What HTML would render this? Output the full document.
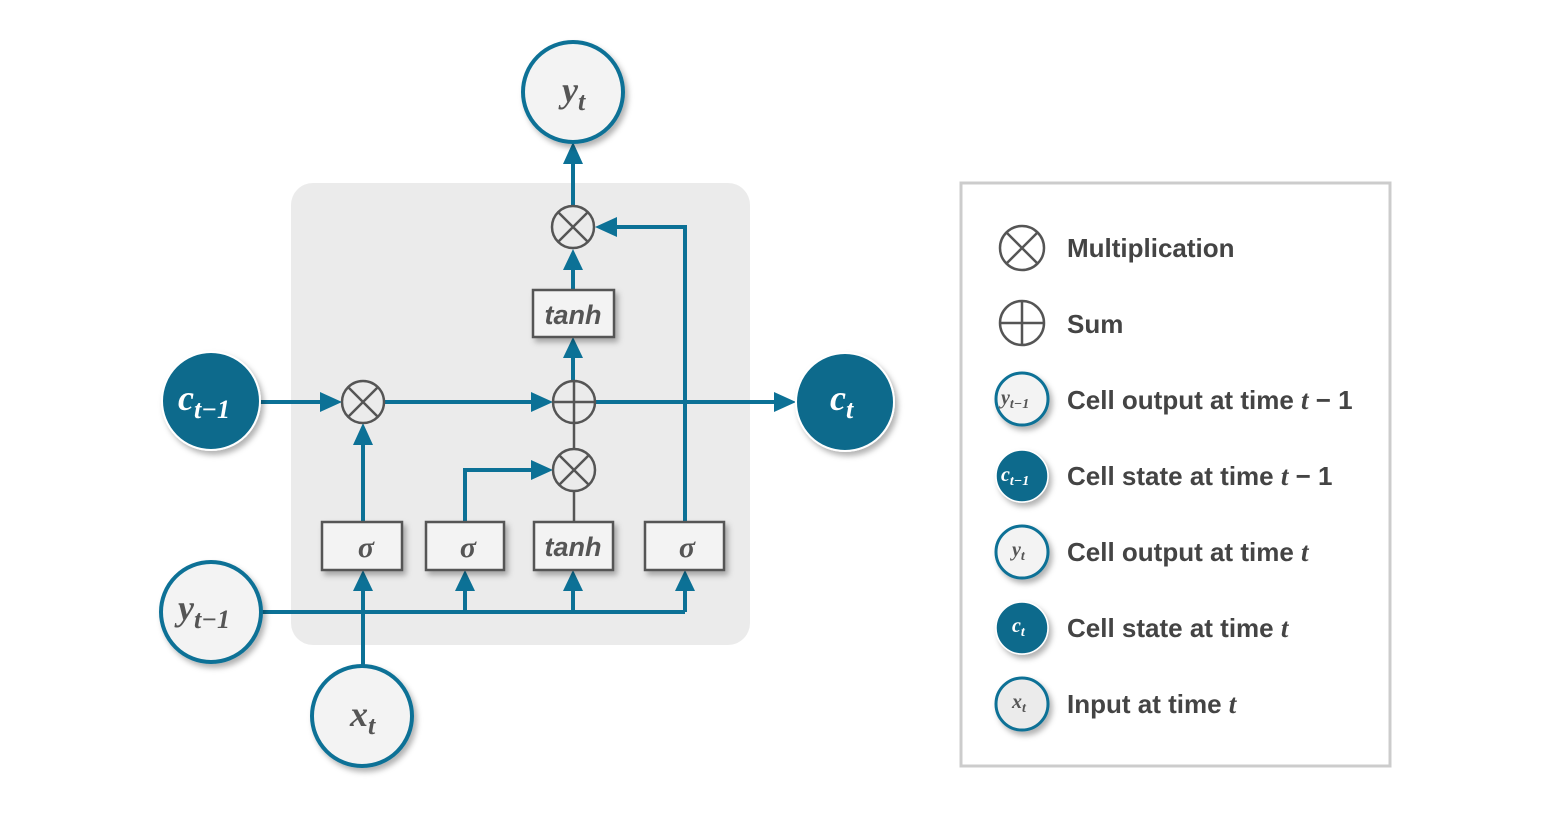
<!DOCTYPE html>
<html><head><meta charset="utf-8"><style>
html,body{margin:0;padding:0;background:#fff;}
svg{display:block;}
.t{font-family:"Liberation Serif",serif;font-style:italic;font-weight:bold;}
.s{font-family:"Liberation Sans",sans-serif;font-weight:bold;fill:#444;font-size:26px;}
</style></head><body>
<svg width="1542" height="814" viewBox="0 0 1542 814" xmlns="http://www.w3.org/2000/svg">
<defs>
<filter id="sh" x="-30%" y="-30%" width="160%" height="160%"><feDropShadow dx="3" dy="4" stdDeviation="3" flood-color="#000" flood-opacity="0.3"/></filter>
</defs>
<rect x="291" y="183" width="459" height="462" rx="22" fill="#ebebeb"/>
<g stroke="#0c7196" stroke-width="4" fill="none">
<line x1="573" y1="205" x2="573" y2="158"/>
<line x1="573" y1="290" x2="573" y2="262"/>
<line x1="573" y1="381" x2="573" y2="350"/>
<polyline points="685,522 685,227 610,227"/>
<line x1="260" y1="402" x2="327" y2="402"/>
<line x1="384" y1="402" x2="538" y2="402"/>
<line x1="595" y1="402" x2="781" y2="402"/>
<line x1="363" y1="522" x2="363" y2="438"/>
<polyline points="465,522 465,470 538,470"/>
<line x1="261" y1="612" x2="685" y2="612"/>
<line x1="363" y1="666" x2="363" y2="585"/>
<line x1="465" y1="612" x2="465" y2="585"/>
<line x1="573" y1="612" x2="573" y2="585"/>
<line x1="685" y1="612" x2="685" y2="585"/>
</g>
<g fill="#0c7196">
<polygon points="573,142 563,164 583,164"/>
<polygon points="573,249 563,270 583,270"/>
<polygon points="573,337 563,358 583,358"/>
<polygon points="595,227 617,217 617,237"/>
<polygon points="342,402 320,392 320,412"/>
<polygon points="553,402 531,392 531,412"/>
<polygon points="796,402 774,392 774,412"/>
<polygon points="363,423 353,445 373,445"/>
<polygon points="553,470 531,460 531,480"/>
<polygon points="363,570 353,591 373,591"/>
<polygon points="465,570 455,591 475,591"/>
<polygon points="573,570 563,591 583,591"/>
<polygon points="685,570 675,591 695,591"/>
</g>
<g stroke="#555" stroke-width="2.5">
<line x1="574" y1="522" x2="574" y2="491"/>
<line x1="574" y1="449" x2="574" y2="423"/>
</g>
<g fill="#f3f3f3" stroke="#555" stroke-width="2.5" filter="url(#sh)">
<rect x="533" y="290" width="81" height="47"/>
<rect x="322" y="522" width="80" height="48"/>
<rect x="426" y="522" width="78" height="48"/>
<rect x="534" y="522" width="79" height="48"/>
<rect x="645" y="522" width="79" height="48"/>
</g>
<g font-family="Liberation Sans,sans-serif" font-style="italic" font-weight="bold" fill="#555" font-size="27" text-anchor="middle">
<text x="573" y="324">tanh</text>
<text x="573" y="556">tanh</text>
</g>
<g class="t" fill="#555" font-size="30" text-anchor="middle">
<text x="366" y="557">σ</text><text x="468" y="557">σ</text><text x="687" y="557">σ</text>
</g>
<g fill="none" stroke="#555" stroke-width="2.5">
<circle cx="573" cy="227" r="21"/><path d="M558,212L588,242M588,212L558,242"/>
<circle cx="363" cy="402" r="21"/><path d="M348,387L378,417M378,387L348,417"/>
<circle cx="574" cy="402" r="21"/><path d="M553,402H595M574,381V423"/>
<circle cx="574" cy="470" r="21"/><path d="M559,455L589,485M589,455L559,485"/>
</g>
<g stroke="#0c7196" stroke-width="4" filter="url(#sh)">
<circle cx="573" cy="92" r="50" fill="#f3f3f3"/>
<circle cx="211" cy="612" r="50" fill="#f3f3f3"/>
<circle cx="362" cy="716" r="50" fill="#f3f3f3"/>
<circle cx="211" cy="401" r="49" fill="#0b6a8c" stroke="#fff" stroke-width="2"/>
<circle cx="845" cy="402" r="49" fill="#0b6a8c" stroke="#fff" stroke-width="2"/>
</g>
<g class="t" font-size="36" fill="#555">
<text x="562" y="102">y<tspan font-size="26" dy="8">t</tspan></text>
<text x="178" y="620">y<tspan font-size="26" dy="8">t−1</tspan></text>
<text x="350" y="726">x<tspan font-size="26" dy="8">t</tspan></text>
</g>
<g class="t" font-size="36" fill="#fff">
<text x="178" y="410">c<tspan font-size="26" dy="8">t−1</tspan></text>
<text x="830" y="410">c<tspan font-size="26" dy="8">t</tspan></text>
</g>
<rect x="961" y="183" width="429" height="583" fill="#fff" stroke="#ccc" stroke-width="3"/>
<g fill="none" stroke="#555" stroke-width="2.5">
<circle cx="1022" cy="248" r="22"/><path d="M1006,232L1038,264M1038,232L1006,264"/>
<circle cx="1022" cy="323" r="22"/><path d="M1000,323H1044M1022,301V345"/>
</g>
<g stroke="#0c7196" stroke-width="3" filter="url(#sh)">
<circle cx="1022" cy="399" r="26" fill="#f3f3f3"/>
<circle cx="1022" cy="476" r="26" fill="#0b6a8c" stroke="#fff" stroke-width="1.5"/>
<circle cx="1022" cy="552" r="26" fill="#f3f3f3"/>
<circle cx="1022" cy="628" r="26" fill="#0b6a8c" stroke="#fff" stroke-width="1.5"/>
<circle cx="1022" cy="704" r="26" fill="#ebebeb"/>
</g>
<g class="t" font-size="20" fill="#555">
<text x="1001" y="404">y<tspan font-size="14" dy="4">t−1</tspan></text>
<text x="1012" y="556">y<tspan font-size="14" dy="4">t</tspan></text>
<text x="1012" y="708">x<tspan font-size="14" dy="4">t</tspan></text>
</g>
<g class="t" font-size="20" fill="#fff">
<text x="1001" y="481">c<tspan font-size="14" dy="4">t−1</tspan></text>
<text x="1012" y="632">c<tspan font-size="14" dy="4">t</tspan></text>
</g>
<text class="s" x="1067" y="257">Multiplication</text>
<text class="s" x="1067" y="333">Sum</text>
<text class="s" x="1067" y="409">Cell output at time <tspan class="t" font-size="27">t</tspan> − 1</text>
<text class="s" x="1067" y="485">Cell state at time <tspan class="t" font-size="27">t</tspan> − 1</text>
<text class="s" x="1067" y="561">Cell output at time <tspan class="t" font-size="27">t</tspan></text>
<text class="s" x="1067" y="637">Cell state at time <tspan class="t" font-size="27">t</tspan></text>
<text class="s" x="1067" y="713">Input at time <tspan class="t" font-size="27">t</tspan></text>
</svg>
</body></html>
